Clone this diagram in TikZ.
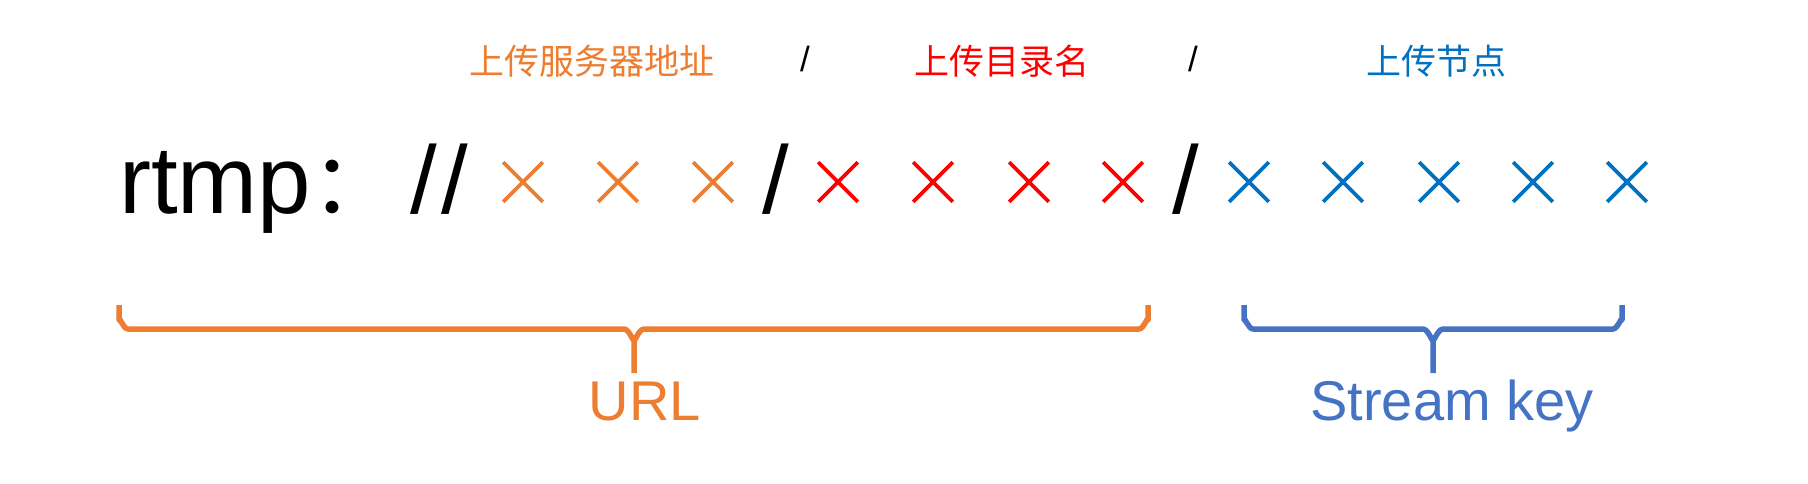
\documentclass[tikz,border=0pt]{standalone}
\usepackage{fontspec}
\setmainfont{Liberation Sans}
\newfontfamily\cjk{Noto Sans CJK SC}
\usetikzlibrary{shapes.misc}
\definecolor{orng}{HTML}{ED7D31}
\definecolor{rd}{HTML}{FF0000}
\definecolor{blx}{HTML}{0070C0}
\definecolor{blb}{HTML}{4472C4}
\begin{document}
\begin{tikzpicture}[x=1pt,y=-1pt,
  xmark/.style={cross out,draw,line width=3.6pt,minimum width=36pt,minimum height=36pt,inner sep=0pt},
  lbl/.style={inner sep=0pt,anchor=base,font=\cjk\fontsize{35}{40}\selectfont},
  big/.style={inner sep=0pt,anchor=base,font=\fontsize{96}{110}\selectfont},
  sm/.style={inner sep=0pt,anchor=base,font=\fontsize{35}{40}\selectfont},
  captext/.style={inner sep=0pt,anchor=base,font=\fontsize{56}{64}\selectfont},
  brace/.style={line width=5.5pt,line join=round}]
\useasboundingbox[fill=white] (0,0) rectangle (1808,484);

% top labels
\node[lbl,text=orng] (l1) at (592,75) {上传服务器地址};
\node[sm] (s1) at (805,72) {/};
\node[lbl,text=rd] (l2) at (1002,75) {上传目录名};
\node[sm] (s2) at (1193,72) {/};
\node[lbl,text=blx] (l3) at (1436,75) {上传节点};

% main line
\node[big,anchor=base west] (rtmp) at (119,213) {rtmp{\cjk\fontsize{84}{96}\selectfont ：}};
\node[big,anchor=base west] (dsl) at (410,213) {/\kern5pt/};
\node[xmark,orng] (o1) at (523,182) {};
\node[xmark,orng] (o2) at (618,182) {};
\node[xmark,orng] (o3) at (713,182) {};
\node[big] (b1) at (776,213) {/};
\node[xmark,rd] (r1) at (838,182) {};
\node[xmark,rd] (r2) at (933,182) {};
\node[xmark,rd] (r3) at (1029,182) {};
\node[xmark,rd] (r4) at (1123,182) {};
\node[big] (b2) at (1186,213) {/};
\node[xmark,blx] (u1) at (1249,182) {};
\node[xmark,blx] (u2) at (1343,182) {};
\node[xmark,blx] (u3) at (1439,182) {};
\node[xmark,blx] (u4) at (1533,182) {};
\node[xmark,blx] (u5) at (1627,182) {};

% braces
\coordinate (oL) at (119,305);
\coordinate (oR) at (1148,305);
\coordinate (oS) at (634,373);
\coordinate (bL) at (1244,305);
\coordinate (bR) at (1622,305);
\coordinate (bS) at (1433,373);
\draw[brace,orng] (oL) -- (119,320) to[out=90,in=180] (128,329)
  -- (624,329) to[out=0,in=-90] (634,339) -- (oS);
\draw[brace,orng] (634,339) to[out=-90,in=180] (644,329)
  -- (1139,329) to[out=0,in=90] (1148,320) -- (oR);
\draw[brace,blb] (bL) -- (1244,320) to[out=90,in=180] (1253,329)
  -- (1423,329) to[out=0,in=-90] (1433,339) -- (bS);
\draw[brace,blb] (1433,339) to[out=-90,in=180] (1443,329)
  -- (1613,329) to[out=0,in=90] (1622,320) -- (bR);

\node[captext,text=orng] (url) at (645,420) {URL};
\node[captext,text=blb] (sk) at (1452,420) {Stream key};
\end{tikzpicture}
\end{document}
